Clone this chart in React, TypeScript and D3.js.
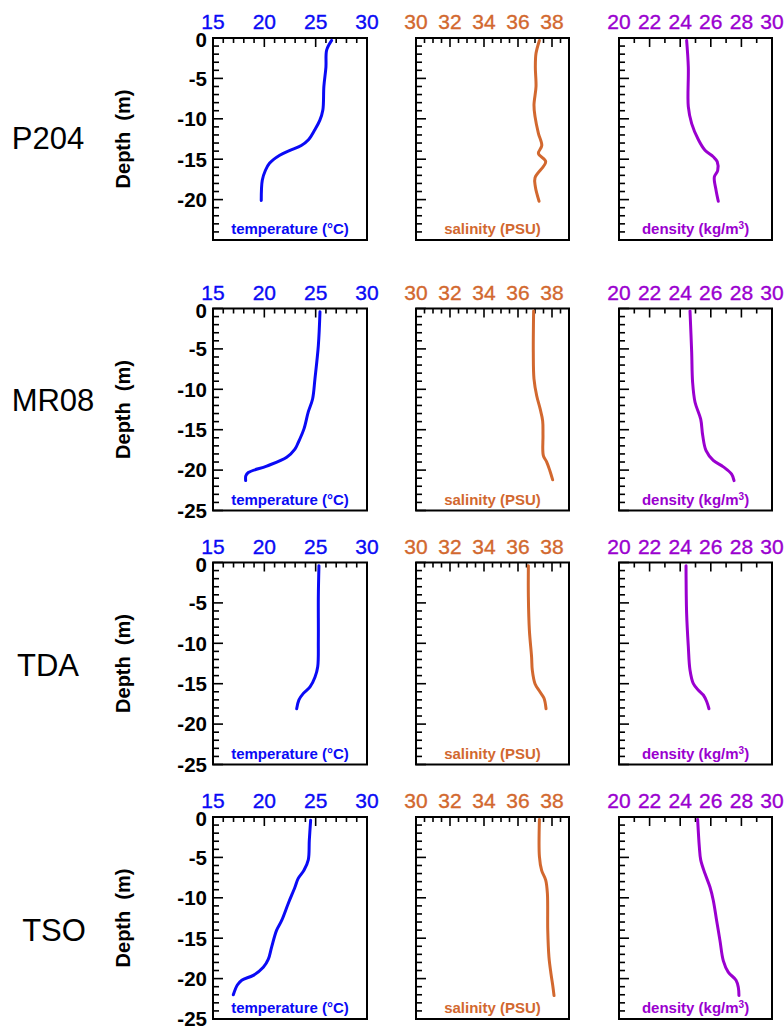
import React from "react";
import * as d3 from "d3";

// ---------- data ----------
const stations = ["P204", "MR08", "TDA", "TSO"];

const tempTicks = [15, 20, 25, 30];
const salTicks = [30, 32, 34, 36, 38];
const densTicks = [20, 22, 24, 26, 28, 30];
const depthTicks = [0, -5, -10, -15, -20, -25];

// P204
const p204TempDepth = [-0.3, -1.5, -3.6, -6, -8.9, -10.2, -11.4, -12.6, -13.3, -13.9, -14.5, -15.5, -16.4, -17.6, -20.1];
const p204Temp = [26.56, 26.07, 26.0, 25.8, 25.7, 25.4, 24.9, 24.3, 23.6, 22.5, 21.5, 20.5, 20.1, 19.8, 19.7];
const p204SalDepth = [-0.3, -1.9, -3.6, -6, -8.3, -9.7, -11.8, -13.3, -14.3, -15.3, -17.3, -18.4, -20.2];
const p204Sal = [37.26, 37.06, 37.02, 37.06, 36.94, 37.0, 37.2, 37.4, 37.2, 37.63, 37.0, 37.02, 37.24];
const p204DensDepth = [-0.3, -3.6, -8.5, -10.6, -12.6, -13.9, -14.7, -15.3, -16.4, -17.2, -18.8, -20.2];
const p204Dens = [24.42, 24.53, 24.53, 24.75, 25.19, 25.62, 26.16, 26.42, 26.45, 26.23, 26.34, 26.49];

// MR08
const mr08TempDepth = [-0.4, -4.6, -8.7, -11.2, -12.8, -14.9, -16.6, -17.4, -18.4, -19.5, -20.3, -20.7, -21.3];
const mr08Temp = [25.42, 25.26, 24.93, 24.7, 24.28, 23.86, 23.3, 22.98, 22.18, 20.23, 18.44, 18.2, 18.18];
const mr08SalDepth = [-0.3, -5.4, -8.7, -10.8, -12.4, -13.9, -15.7, -18.2, -19.0, -20.1, -21.2];
const mr08Sal = [36.92, 36.9, 36.94, 37.1, 37.3, 37.45, 37.47, 37.49, 37.69, 37.88, 38.04];
const mr08DensDepth = [-0.3, -5.4, -9.1, -11.6, -13.7, -15.7, -17.6, -18.8, -19.6, -20.5, -21.3];
const mr08Dens = [24.64, 24.75, 24.81, 24.97, 25.34, 25.47, 25.69, 26.16, 26.82, 27.36, 27.52];

// TDA
const tdaTempDepth = [-0.4, -4.2, -9.6, -12.9, -14.2, -15.4, -16.2, -17.0, -18.1];
const tdaTemp = [25.32, 25.26, 25.26, 25.2, 24.93, 24.45, 23.8, 23.37, 23.15];
const tdaSalDepth = [-0.4, -4.2, -8.4, -11.7, -13.3, -15.0, -16.0, -16.8, -18.1];
const tdaSal = [36.61, 36.61, 36.67, 36.8, 36.84, 37.0, 37.29, 37.53, 37.65];
const tdaDensDepth = [-0.4, -6.3, -10.4, -13.3, -15.0, -15.8, -16.4, -17.2, -18.1];
const tdaDens = [24.38, 24.42, 24.53, 24.64, 24.86, 25.19, 25.51, 25.73, 25.88];

// TSO
const tsoTempDepth = [-0.4, -2.9, -5.3, -6.6, -7.6, -8.7, -10.7, -12.8, -14.0, -16.1, -17.6, -18.6, -19.6, -20.2, -20.8, -22.0];
const tsoTemp = [24.51, 24.38, 24.28, 23.86, 23.3, 22.98, 22.33, 21.69, 21.2, 20.71, 20.39, 19.9, 18.92, 17.8, 17.37, 16.98];
const tsoSalDepth = [-0.3, -4.9, -6.6, -7.8, -9.5, -14.0, -17.3, -19.4, -20.8, -22.1];
const tsoSal = [37.26, 37.26, 37.39, 37.63, 37.73, 37.75, 37.82, 37.94, 38.04, 38.12];
const tsoDensDepth = [-0.3, -3.7, -5.3, -7.0, -8.7, -10.3, -12.8, -15.3, -17.8, -19.2, -20.2, -21.1, -22.1];
const tsoDens = [25.14, 25.25, 25.34, 25.62, 25.95, 26.16, 26.38, 26.6, 26.82, 27.14, 27.65, 27.8, 27.84];

const tempDepths = [p204TempDepth, mr08TempDepth, tdaTempDepth, tsoTempDepth];
const temps = [p204Temp, mr08Temp, tdaTemp, tsoTemp];
const salDepths = [p204SalDepth, mr08SalDepth, tdaSalDepth, tsoSalDepth];
const sals = [p204Sal, mr08Sal, tdaSal, tsoSal];
const densDepths = [p204DensDepth, mr08DensDepth, tdaDensDepth, tsoDensDepth];
const denss = [p204Dens, mr08Dens, tdaDens, tsoDens];

// ---------- layout ----------
const W = 784;
const H = 1026;
const rowTops = [38, 308.5, 562.5, 817];
const stationLabelX = [48, 53, 48, 54];
const stationLabelY = [138, 400, 665, 930];
const panelH = 202;
const FONT = "Arial, 'Liberation Sans', Helvetica, sans-serif";

const BLUE = "#0a0af5";
const ORANGE = "#d2682f";
const PURPLE = "#9a00cf";

type PanelDef = {
  x0: number;
  w: number;
  domain: [number, number];
  ticks: number[];
  minorStep: number;
  majorStep: number;
  color: string;
  label: React.ReactNode;
  depths: number[][];
  values: number[][];
};

const panels: PanelDef[] = [
  {
    x0: 213, w: 154, domain: [15, 30], ticks: tempTicks, minorStep: 1, majorStep: 5, color: BLUE,
    label: "temperature (°C)", depths: tempDepths, values: temps,
  },
  {
    x0: 416, w: 153, domain: [30, 39], ticks: salTicks, minorStep: 0.5, majorStep: 2, color: ORANGE,
    label: "salinity (PSU)", depths: salDepths, values: sals,
  },
  {
    x0: 619, w: 153, domain: [20, 30], ticks: densTicks, minorStep: 1, majorStep: 2, color: PURPLE,
    label: (
      <>
        density (kg/m
        <tspan dy={-5} fontSize={10}>3</tspan>
        <tspan dy={5}>)</tspan>
      </>
    ),
    depths: densDepths, values: denss,
  },
];

function Panel({ p, top, row }: { p: PanelDef; top: number; row: number }) {
  const x = d3.scaleLinear().domain(p.domain).range([p.x0, p.x0 + p.w]);
  const y = d3.scaleLinear().domain([0, -25]).range([top, top + panelH]);
  const minorX = d3.range(p.domain[0], p.domain[1] + 1e-6, p.minorStep);
  const minorY = d3.range(0, -25.0001, -1);
  const pts: [number, number][] = p.values[row].map((v, i) => [v, p.depths[row][i]]);
  const line = d3
    .line<[number, number]>()
    .x((d) => x(d[0]))
    .y((d) => y(d[1]))
    .curve(d3.curveCatmullRom.alpha(0.5));
  const isMajorX = (v: number) => Math.abs(v / p.majorStep - Math.round(v / p.majorStep)) < 1e-6;
  return (
    <g>
      {minorX.map((v, i) => (
        <line
          key={"tx" + i}
          x1={x(v)} x2={x(v)} y1={top} y2={top + (isMajorX(v) ? 9 : 5)}
          stroke="#000" strokeWidth={1.6}
        />
      ))}
      {minorY.map((v, i) => (
        <line
          key={"ty" + i}
          x1={p.x0} x2={p.x0 + (Math.abs(v) % 5 === 0 ? 10 : 6)} y1={y(v)} y2={y(v)}
          stroke="#000" strokeWidth={1.6}
        />
      ))}
      <rect x={p.x0} y={top} width={p.w} height={panelH} fill="none" stroke="#000" strokeWidth={2} />
      {p.ticks.map((t) => (
        <text
          key={"lx" + t}
          x={x(t)} y={top - 9}
          textAnchor="middle" fontSize={21} fill={p.color} stroke={p.color} strokeWidth={0.35} fontFamily={FONT}
        >
          {t}
        </text>
      ))}
      <path d={line(pts) || ""} fill="none" stroke={p.color} strokeWidth={3} strokeLinecap="round" strokeLinejoin="round" />
      <text
        x={p.x0 + p.w / 2} y={top + panelH - 6}
        textAnchor="middle" fontSize={15} fontWeight="bold" fill={p.color} fontFamily={FONT}
      >
        {p.label}
      </text>
    </g>
  );
}

export default function App() {
  return (
    <svg width={W} height={H} viewBox={`0 0 ${W} ${H}`} style={{ display: "block", position: "absolute", left: 0, top: 0, background: "#fff" }}>
      <rect x={0} y={0} width={W} height={H} fill="#fff" />
      {stations.map((s, row) => {
        const top = rowTops[row];
        const y = d3.scaleLinear().domain([0, -25]).range([top, top + panelH]);
        const labelTicks = row === 0 ? depthTicks.filter((d) => d > -25) : depthTicks;
        return (
          <g key={s}>
            <text x={stationLabelX[row]} y={stationLabelY[row] + 11} textAnchor="middle" fontSize={31} fontFamily={FONT} fill="#000">
              {s}
            </text>
            <text
              transform={`translate(130,${top + panelH / 2}) rotate(-90)`}
              textAnchor="middle" fontSize={20} fontWeight="bold" fontFamily={FONT} fill="#000"
              style={{ whiteSpace: "pre" }}
            >
              {"Depth  (m)"}
            </text>
            {labelTicks.map((d) => (
              <text
                key={"dl" + d}
                x={207} y={y(d) + (d === 0 ? 2 : 0)} dy="0.36em"
                textAnchor="end" fontSize={20.5} fontWeight="bold" fontFamily={FONT} fill="#000"
              >
                {d}
              </text>
            ))}
            {panels.map((p, i) => (
              <Panel key={i} p={p} top={top} row={row} />
            ))}
          </g>
        );
      })}
    </svg>
  );
}
